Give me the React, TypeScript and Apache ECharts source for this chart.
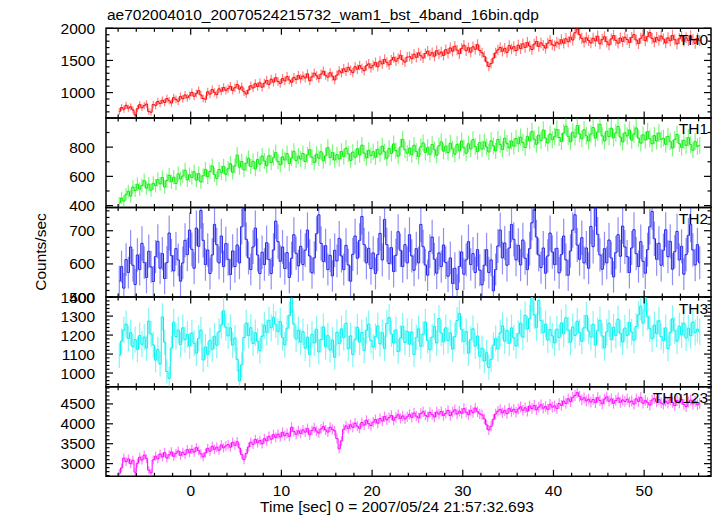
import React, { useEffect, useRef } from "react";
import * as echarts from "echarts";

// Light-curve bins: 0.25 s bins, first bin centre at -7.875 s
const BIN_START = -7.875;
const BIN_WIDTH = 0.25;

const th0 = [
  705, 768, 742, 801, 756, 779, 731, 652, 748, 812, 763, 797, 822, 707, 694, 815,
  798, 861, 829, 880, 846, 907, 872, 838, 921, 893, 866, 940, 902, 963, 918, 951,
  1002, 943, 985, 1031, 962, 908, 896, 1012, 976, 1047, 1003, 969, 1058, 1021, 1079, 1034,
  1061, 1098, 1033, 1075, 1124, 1052, 1089, 1012, 977, 1040, 1106, 1071, 1139, 1094, 1152, 1083,
  1146, 1189, 1127, 1208, 1163, 1231, 1174, 1142, 1219, 1181, 1248, 1196, 1159, 1236, 1202, 1265,
  1214, 1258, 1227, 1292, 1183, 1246, 1301, 1262, 1218, 1287, 1333, 1269, 1241, 1308, 1256, 1197,
  1272, 1339, 1308, 1371, 1329, 1392, 1347, 1311, 1402, 1363, 1421, 1376, 1340, 1418, 1447, 1384,
  1423, 1469, 1401, 1488, 1446, 1517, 1472, 1430, 1506, 1548, 1489, 1532, 1581, 1507, 1474, 1553,
  1561, 1528, 1596, 1547, 1618, 1573, 1539, 1607, 1644, 1582, 1621, 1565, 1652, 1598, 1631, 1577,
  1668, 1612, 1695, 1643, 1721, 1662, 1604, 1687, 1736, 1651, 1698, 1629, 1713, 1674, 1746, 1655,
  1618, 1562, 1478, 1405, 1451, 1536, 1617, 1664, 1702, 1643, 1688, 1626, 1731, 1679, 1714, 1652,
  1738, 1684, 1759, 1703, 1781, 1724, 1669, 1752, 1796, 1718, 1773, 1734, 1692, 1768, 1811, 1745,
  1728, 1783, 1756, 1822, 1768, 1837, 1791, 1862, 1818, 1931, 1988, 1902, 1843, 1786, 1852, 1809,
  1772, 1846, 1803, 1878, 1759, 1824, 1869, 1791, 1742, 1835, 1887, 1812, 1768, 1849, 1796, 1861,
  1826, 1779, 1858, 1901, 1818, 1762, 1845, 1893, 1807, 1871, 1936, 1842, 1788, 1857, 1813, 1879,
  1834, 1772, 1851, 1806, 1889, 1823, 1758, 1837, 1876, 1798, 1852, 1809, 1881, 1826, 1767, 1843,
  1808,
];

const th1 = [
  418, 452, 431, 476, 498, 465, 527, 503, 546, 512, 538, 571, 519, 547, 506, 553,
  536, 578, 549, 592, 527, 571, 608, 563, 594, 551, 617, 583, 602, 642, 576, 611,
  593, 631, 574, 619, 562, 604, 648, 597, 633, 671, 612, 586, 647, 625, 668, 614,
  652, 687, 628, 671, 746, 663, 702, 645, 689, 724, 667, 703, 651, 716, 684, 739,
  706, 672, 741, 694, 728, 763, 701, 679, 734, 712, 756, 687, 725, 771, 708, 739,
  718, 756, 702, 747, 783, 731, 694, 752, 724, 768, 706, 741, 797, 729, 763, 712,
  748, 719, 771, 736, 792, 754, 708, 766, 731, 789, 747, 813, 759, 726, 778, 742,
  769, 731, 786, 752, 807, 768, 724, 791, 757, 822, 776, 738, 801, 853, 782, 759,
  793, 748, 812, 771, 736, 802, 829, 764, 797, 751, 818, 783, 744, 809, 836, 772,
  806, 763, 827, 788, 752, 819, 774, 842, 796, 758, 823, 787, 851, 804, 769, 831,
  788, 836, 801, 767, 843, 809, 774, 852, 818, 783, 861, 826, 794, 842, 807, 859,
  823, 868, 831, 797, 874, 842, 906, 855, 819, 883, 846, 917, 862, 828, 889, 851,
  872, 921, 866, 838, 897, 943, 874, 836, 902, 868, 948, 891, 857, 919, 878, 842,
  889, 934, 861, 903, 956, 877, 842, 908, 872, 929, 863, 897, 941, 869, 835, 898,
  876, 917, 848, 889, 931, 862, 827, 884, 849, 906, 858, 823, 879, 842, 897, 853,
  861, 819, 874, 838, 793, 852, 887, 824, 798, 846, 812, 865, 817, 779, 838, 804,
  812,
];

const th2 = [
  548, 592, 527, 613, 574, 651, 596, 538, 627, 583, 662, 604, 559, 638, 591, 547,
  622, 668, 587, 631, 556, 604, 693, 625, 579, 646, 612, 548, 603, 671, 628, 702,
  644, 587, 708, 653, 761, 671, 598, 642, 571, 627, 719, 658, 603, 684, 592, 661,
  614, 568, 639, 592, 657, 603, 712, 768, 674, 618, 583, 651, 708, 627, 571, 635,
  598, 664, 613, 571, 642, 729, 667, 608, 651, 586, 634, 559, 617, 688, 632, 594,
  653, 598, 641, 702, 624, 573, 618, 691, 748, 662, 607, 655, 583, 626, 564, 641,
  609, 677, 624, 583, 656, 597, 548, 629, 684, 617, 671, 743, 658, 603, 647, 586,
  633, 571, 628, 692, 612, 734, 658, 601, 649, 577, 626, 697, 641, 592, 658, 603,
  688, 624, 581, 646, 603, 719, 652, 597, 566, 638, 681, 614, 572, 633, 592, 657,
  604, 563, 618, 541, 587, 523, 592, 636, 569, 612, 667, 598, 631, 574, 643, 581,
  537, 596, 643, 574, 612, 519, 583, 654, 702, 618, 663, 596, 648, 719, 674, 612,
  656, 597, 672, 617, 583, 646, 724, 763, 681, 627, 589, 648, 572, 624, 693, 636,
  598, 647, 573, 628, 684, 612, 566, 639, 702, 748, 657, 614, 679, 603, 648, 587,
  713, 652, 768, 689, 627, 584, 646, 603, 672, 618, 561, 634, 688, 623, 714, 651,
  622, 574, 648, 703, 631, 592, 667, 608, 572, 643, 712, 758, 676, 614, 662, 596,
  641, 703, 622, 668, 584, 637, 698, 612, 653, 569, 628, 686, 719, 642, 597, 658,
  603,
];

const th3 = [
  1093, 1168, 1227, 1258, 1182, 1213, 1139, 1176, 1124, 1197, 1152, 1189, 1131, 1274, 1206, 1148,
  1068, 1124, 1047, 1296, 1163, 1008, 972, 1131, 1268, 1192, 1227, 1149, 1238, 1176, 1203, 1142,
  1211, 1157, 1104, 1183, 1226, 1069, 1137, 1098, 1172, 1125, 1194, 1146, 1217, 1253, 1328, 1241,
  1196, 1238, 1147, 1184, 1072, 958, 1043, 1187, 1263, 1198, 1239, 1156, 1212, 1168, 1117, 1194,
  1252, 1213, 1278, 1239, 1294, 1256, 1218, 1271, 1187, 1148, 1236, 1303, 1392, 1258, 1179, 1226,
  1163, 1218, 1131, 1189, 1097, 1204, 1158, 1231, 1112, 1176, 1243, 1138, 1197, 1121, 1174, 1083,
  1214, 1156, 1233, 1187, 1262, 1128, 1196, 1097, 1178, 1241, 1163, 1214, 1119, 1225, 1258, 1171,
  1137, 1192, 1248, 1154, 1213, 1129, 1261, 1292, 1206, 1158, 1227, 1113, 1184, 1246, 1161, 1219,
  1152, 1216, 1098, 1187, 1233, 1141, 1204, 1268, 1172, 1123, 1189, 1246, 1158, 1287, 1211, 1164,
  1238, 1171, 1212, 1126, 1193, 1276, 1314, 1229, 1167, 1218, 1104, 1176, 1233, 1142, 1195, 1088,
  1131, 1063, 1107, 1029, 1072, 1146, 1182, 1127, 1211, 1249, 1168, 1224, 1157, 1238, 1186, 1143,
  1207, 1263, 1189, 1304, 1232, 1287, 1397, 1306, 1241, 1382, 1276, 1213, 1258, 1174, 1229, 1196,
  1158, 1231, 1187, 1264, 1206, 1291, 1226, 1162, 1243, 1198, 1273, 1214, 1167, 1238, 1303, 1221,
  1189, 1256, 1147, 1223, 1278, 1195, 1132, 1217, 1262, 1176, 1241, 1198, 1284, 1209, 1163, 1237,
  1198, 1267, 1216, 1173, 1245, 1306, 1352, 1263, 1396, 1297, 1234, 1181, 1253, 1207, 1276, 1192,
  1171, 1238, 1129, 1214, 1286, 1223, 1168, 1247, 1201, 1262, 1185, 1236, 1197, 1268, 1213, 1231,
  1218,
];

const th0123 = [
  2752, 2893, 3138, 3052, 3117, 2998, 3084, 2786, 3011, 3162, 3089, 3214, 3126, 2837, 2769, 3094,
  3187, 3121, 3242, 3168, 3276, 3139, 3221, 3294, 3183, 3262, 3317, 3208, 3286, 3231, 3352, 3274,
  3361, 3289, 3402, 3327, 3246, 3171, 3268, 3384, 3312, 3437, 3358, 3412, 3336, 3471, 3396, 3443,
  3478, 3413, 3532, 3461, 3548, 3392, 3226, 3098, 3254, 3417, 3538, 3486, 3607, 3524, 3582, 3497,
  3628, 3571, 3686, 3612, 3729, 3658, 3742, 3669, 3786, 3703, 3761, 3682, 3912, 3804, 3737, 3826,
  3758, 3847, 3792, 3881, 3724, 3836, 3903, 3817, 3768, 3872, 3931, 3846, 3794, 3913, 3858, 3821,
  3628, 3372, 3571, 3862, 3947, 3884, 3976, 3912, 4018, 3941, 3886, 4032, 3967, 4089, 4003, 3958,
  4041, 4108, 4016, 4132, 4067, 4183, 4098, 4156, 4212, 4089, 4163, 4227, 4134, 4198, 4121, 4176,
  4238, 4163, 4271, 4192, 4146, 4258, 4304, 4217, 4176, 4287, 4231, 4168, 4296, 4243, 4312, 4207,
  4263, 4334, 4208, 4296, 4351, 4247, 4318, 4266, 4381, 4292, 4229, 4341, 4283, 4396, 4304, 4251,
  4223, 4126, 3974, 3846, 3938, 4112, 4247, 4318, 4362, 4274, 4333, 4256, 4387, 4311, 4364, 4292,
  4371, 4426, 4338, 4402, 4317, 4448, 4383, 4462, 4351, 4419, 4477, 4392, 4436, 4364, 4491, 4418,
  4452, 4387, 4508, 4463, 4571, 4512, 4628, 4557, 4663, 4712, 4784, 4689, 4602, 4653, 4574, 4618,
  4547, 4612, 4531, 4658, 4583, 4502, 4621, 4676, 4569, 4624, 4513, 4587, 4649, 4538, 4602, 4561,
  4618, 4542, 4573, 4496, 4628, 4561, 4664, 4517, 4589, 4533, 4471, 4596, 4638, 4552, 4607, 4524,
  4492, 4568, 4517, 4604, 4538, 4459, 4583, 4527, 4612, 4486, 4431, 4548, 4593, 4502, 4566, 4478,
  4512,
];

const panelNames = ["TH0", "TH1", "TH2", "TH3", "TH0123"];
const panelSeries = [th0, th1, th2, th3, th0123];
const panelColors = ["#ff0000", "#00ee00", "#2020f0", "#00f0f0", "#ff00ff"];
const yRanges = [
  [606, 2000],
  [387, 1000],
  [500, 770],
  [928, 1400],
  [2682, 4932],
];
const yMajorTicks = [
  [1000, 1500, 2000],
  [400, 600, 800],
  [500, 600, 700],
  [1000, 1100, 1200, 1300, 1400],
  [3000, 3500, 4000, 4500],
];
const yMinorStep = [100, 100, 20, 20, 100];
const xRange = [-9.34, 57.37];
const xMajorTicks = [0, 10, 20, 30, 40, 50];
const xMinorStep = 2;

const titleText = "ae702004010_20070524215732_wam1_bst_4band_16bin.qdp";
const xTitle = "Time [sec] 0 = 2007/05/24 21:57:32.693";
const yTitle = "Counts/sec";

const FONT = "'Liberation Sans', Arial, Helvetica, sans-serif";
const FS = 15.5;

function minorTicks(min: number, max: number, step: number, majors: number[]) {
  const out: number[] = [];
  const start = Math.ceil(min / step) * step;
  for (let v = start; v <= max + 1e-9; v += step) {
    const r = Math.round(v * 1000) / 1000;
    if (!majors.some((m) => Math.abs(m - r) < 1e-6)) out.push(r);
  }
  return out;
}

export default function App() {
  const ref = useRef<HTMLDivElement>(null);

  useEffect(() => {
    if (!ref.current) return;
    const chart = echarts.init(ref.current, undefined, { renderer: "svg" });

    const GRID_LEFT = 106;
    const GRID_WIDTH = 605;
    const GRID_TOP = 28.3;
    const GRID_H = 89.6;

    const grids: any[] = [];
    const xAxes: any[] = [];
    const yAxes: any[] = [];
    const series: any[] = [];
    const graphics: any[] = [];

    const xMinor = minorTicks(-8, 56, xMinorStep, xMajorTicks);

    panelNames.forEach((name, i) => {
      const top = GRID_TOP + i * GRID_H;
      const [ymin, ymax] = yRanges[i];
      grids.push({
        left: GRID_LEFT,
        width: GRID_WIDTH,
        top,
        height: GRID_H,
        show: true,
        borderColor: "#000",
        borderWidth: 1.5,
        backgroundColor: "transparent",
        containLabel: false,
      });
      const isBottom = i === panelNames.length - 1;
      xAxes.push({
        gridIndex: i,
        type: "value",
        min: xRange[0],
        max: xRange[1],
        position: "bottom",
        axisLine: { show: false, onZero: false },
        axisTick: { show: false },
        splitLine: { show: false },
        axisLabel: isBottom
          ? {
              show: true,
              customValues: xMajorTicks,
              margin: 6,
              color: "#000",
              fontSize: FS,
              fontFamily: FONT,
              formatter: (v: number) => String(v),
            }
          : { show: false },
      });
      yAxes.push({
        gridIndex: i,
        type: "value",
        min: ymin,
        max: ymax,
        position: "left",
        axisLine: { show: false, onZero: false },
        axisTick: { show: false },
        splitLine: { show: false },
        axisLabel: {
          show: true,
          customValues: yMajorTicks[i],
          margin: 11,
          color: "#000",
          fontSize: FS,
          fontFamily: FONT,
          showMinLabel: true,
          showMaxLabel: true,
          formatter: (v: number) => String(v),
        },
      });

      const values = panelSeries[i];
      const color = panelColors[i];
      const pts = values.map((v, k) => [BIN_START + k * BIN_WIDTH, v, Math.sqrt(v / BIN_WIDTH)]);

      series.push({
        type: "custom",
        xAxisIndex: i,
        yAxisIndex: i,
        clip: true,
        silent: true,
        data: pts,
        encode: { x: 0, y: 1 },
        renderItem: (params: any, api: any) => {
          const t = api.value(0);
          const v = api.value(1);
          const e = api.value(2);
          const p1 = api.coord([t, v - e]);
          const p2 = api.coord([t, v + e]);
          return {
            type: "line",
            shape: { x1: p1[0], y1: p1[1], x2: p2[0], y2: p2[1] },
            style: { stroke: color, lineWidth: 1.2, opacity: 0.5 },
          };
        },
        z: 2,
      });
      series.push({
        type: "line",
        xAxisIndex: i,
        yAxisIndex: i,
        step: "middle",
        showSymbol: false,
        symbol: "none",
        clip: true,
        silent: true,
        data: pts.map((p) => [p[0], p[1]]),
        lineStyle: { color, width: 1 },
        itemStyle: { color },
        z: 3,
      });

      graphics.push({
        type: "text",
        right: 717 - 708,
        top: top + 3,
        style: { text: name, fill: "#000", fontSize: FS, fontFamily: FONT },
        z: 10,
      });
    });

    graphics.push({
      type: "text",
      left: 107,
      top: 6,
      style: { text: titleText, fill: "#000", fontSize: FS, fontFamily: FONT },
    });
    graphics.push({
      type: "text",
      x: 397,
      y: 506,
      style: { text: xTitle, fill: "#000", fontSize: FS, fontFamily: FONT, align: "center", verticalAlign: "middle" },
    });
    graphics.push({
      type: "text",
      x: 40,
      y: 252,
      rotation: Math.PI / 2,
      style: { text: yTitle, fill: "#000", fontSize: FS, fontFamily: FONT, align: "center", verticalAlign: "middle" },
    });

    chart.setOption({
      animation: false,
      backgroundColor: "#fff",
      grid: grids,
      xAxis: xAxes,
      yAxis: yAxes,
      series,
      graphic: graphics,
    });

    // inside tick marks on all four sides, placed through each grid's axes (thin filled rects)
    const tickGraphics: any[] = [];
    panelNames.forEach((_, i) => {
      const [ymin, ymax] = yRanges[i];
      const finder = { gridIndex: i };
      const yMinor = minorTicks(ymin, ymax, yMinorStep[i], yMajorTicks[i]);
      const addY = (v: number, len: number) => {
        const pl = chart.convertToPixel(finder, [xRange[0], v]) as number[];
        const pr = chart.convertToPixel(finder, [xRange[1], v]) as number[];
        if (!pl || !pr) return;
        tickGraphics.push({
          type: "rect", z: 20, silent: true,
          shape: { x: pl[0], y: pl[1] - 0.6, width: len, height: 1.2 },
          style: { fill: "#000" },
        });
        tickGraphics.push({
          type: "rect", z: 20, silent: true,
          shape: { x: pr[0] - len, y: pr[1] - 0.6, width: len, height: 1.2 },
          style: { fill: "#000" },
        });
      };
      const addX = (v: number, len: number) => {
        const pb = chart.convertToPixel(finder, [v, ymin]) as number[];
        const pt = chart.convertToPixel(finder, [v, ymax]) as number[];
        if (!pb || !pt) return;
        tickGraphics.push({
          type: "rect", z: 20, silent: true,
          shape: { x: pt[0] - 0.6, y: pt[1], width: 1.2, height: len },
          style: { fill: "#000" },
        });
        tickGraphics.push({
          type: "rect", z: 20, silent: true,
          shape: { x: pb[0] - 0.6, y: pb[1] - len, width: 1.2, height: len },
          style: { fill: "#000" },
        });
      };
      yMajorTicks[i].forEach((v) => addY(v, 7));
      yMinor.forEach((v) => addY(v, 3.5));
      xMajorTicks.forEach((v) => addX(v, 6.5));
      xMinor.forEach((v) => addX(v, 3.5));
    });
    chart.setOption({ graphic: [...graphics, ...tickGraphics] });

    return () => chart.dispose();
  }, []);

  return (
    <div
      ref={ref}
      style={{ position: "absolute", left: 0, top: 0, width: 717, height: 516 }}
    />
  );
}
